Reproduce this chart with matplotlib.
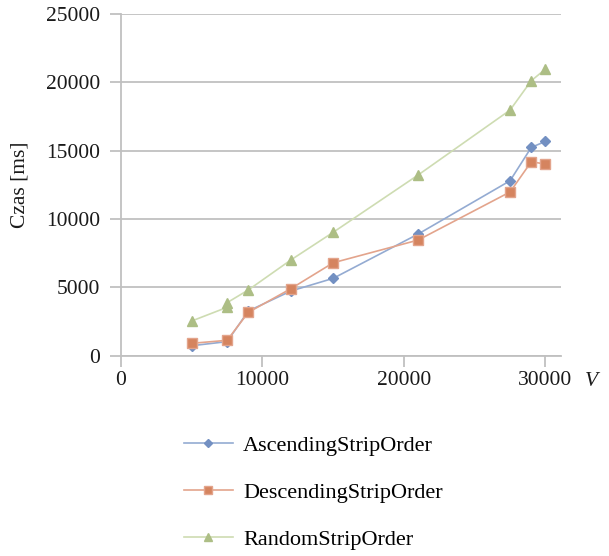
import matplotlib.pyplot as plt
from matplotlib.lines import Line2D

plt.rcParams['font.family'] = ['Liberation Serif', 'DejaVu Serif']

# rozmiar danych V
v = [5000, 7500, 9000, 12000, 15000, 21000, 27500, 29000, 30000]
ascending = [730, 1030, 3270, 4730, 5660, 8900, 12800, 15240, 15680]
descending = [905, 1125, 3170, 4900, 6800, 8460, 11980, 14190, 14020]

v_random = [5000, 7500, 7500, 9000, 12000, 15000, 21000, 27500, 29000, 30000]
random_order = [2540, 3540, 3880, 4810, 7000, 9030, 13220, 17970, 20120, 20970]

labels = ['AscendingStripOrder', 'DescendingStripOrder', 'RandomStripOrder']

fig = plt.figure(figsize=(6.09, 5.56), dpi=100)
ax = fig.add_axes([121 / 609, 1 - 355.7 / 556, 440 / 609, 341.7 / 556])

grid_col = '#c0c0c0'
ax.set_axisbelow(True)
ax.yaxis.grid(True, color=grid_col, linewidth=1.3)

l1, = ax.plot(v, ascending, color='#94abd2', lw=1.2, marker='D', ms=5.5,
              mfc='#7390c2', mec='#7390c2')
l2, = ax.plot(v, descending, color='#e3a48c', lw=1.2, marker='s', ms=7,
              mfc='#d5845f', mec='#e3a48c')
l3, = ax.plot(v_random, random_order, color='#cedcb2', lw=1.2, marker='^', ms=7,
              mfc='#adbe85', mec='#adbe85')

ax.set_xlim(0, 31100)
ax.set_ylim(0, 25000)
ax.set_xticks([0, 10000, 20000, 30000])
ax.set_yticks([0, 5000, 10000, 15000, 20000, 25000])

for s in ['top', 'right']:
    ax.spines[s].set_visible(False)
for s in ['left', 'bottom']:
    ax.spines[s].set_color(grid_col)
    ax.spines[s].set_linewidth(1.3)

ax.tick_params(axis='both', colors=grid_col, length=8, width=1.3,
               labelsize=15.5, labelcolor='#1a1a1a')
ax.tick_params(axis='y', pad=7)
ax.tick_params(axis='x', pad=3)

fig.text(20 / 609, 1 - 185 / 556, 'Czas [ms]', rotation=90, fontsize=15.5,
         ha='center', va='center', color='#1a1a1a')
fig.text(591 / 609, 1 - 381 / 556, 'V', fontsize=15.5, style='italic',
         ha='center', va='center', color='#1a1a1a')

fig.legend([l1, l2, l3], labels, loc='upper left',
           bbox_to_anchor=(164 / 609, 1 - 415 / 556), frameon=False,
           fontsize=16, handlelength=2.2, handletextpad=0.45, labelspacing=1.2,
           markerscale=0.75)

fig.savefig('out.png', dpi=100)
